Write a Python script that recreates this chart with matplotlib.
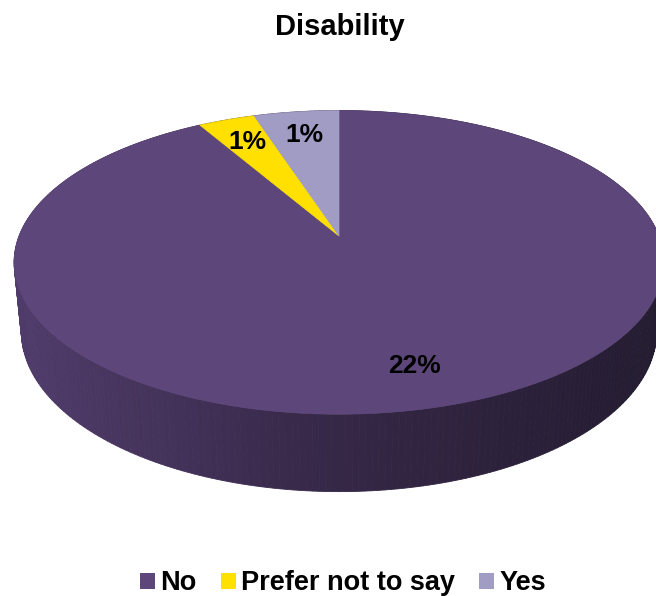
import numpy as np
import matplotlib.pyplot as plt
from matplotlib.patches import Polygon, Patch

plt.rcParams['font.family'] = ['Liberation Sans', 'DejaVu Sans']
plt.rcParams['font.weight'] = 'bold'

title = "Disability"
labels = ["No", "Prefer not to say", "Yes"]
values = [22.0, 0.8, 1.2]
colors = ["#5D467A", "#FFE000", "#A19CC4"]

# camera / geometry of the 3d pie (pixel space)
elev = np.radians(27.4)
dist = 5.11
thick = 0.245
scale = 1635
cx, cy = 339, 236
ce, se = np.cos(elev), np.sin(elev)


def project(x, y, z):
    depth = y * ce + dist - z * se
    up = y * se + z * ce
    return cx + scale * x / depth, cy - scale * up / depth, depth


def side_color(px):
    # darker towards the right, like the default lighting
    xs = [15, 340, 656]
    rgb = [(80, 60, 107), (53, 39, 70), (36, 28, 49)]
    return tuple(np.interp(px, xs, [c[i] for c in rgb]) / 255 for i in range(3))


fig = plt.figure(figsize=(6.56, 5.96), dpi=100)
ax = fig.add_axes([0, 0, 1, 1])
ax.set_xlim(0, 656)
ax.set_ylim(596, 0)
ax.axis('off')

total = sum(values)
bounds = np.concatenate([[0], np.cumsum(values) / total * 360])

# side walls, far ones first
quads = []
for i in range(len(values)):
    a = np.radians(np.linspace(bounds[i], bounds[i + 1], max(int(bounds[i + 1] - bounds[i]), 2) + 1))
    for a0, a1 in zip(a[:-1], a[1:]):
        pts = []
        for ang, z in [(a0, 0), (a1, 0), (a1, -thick), (a0, -thick)]:
            px, py, d = project(np.sin(ang), np.cos(ang), z)
            pts.append((px, py))
        mid = (a0 + a1) / 2
        d = project(np.sin(mid), np.cos(mid), 0)[2]
        quads.append((d, pts))
quads.sort(key=lambda q: -q[0])
for d, pts in quads:
    col = side_color(np.mean([p[0] for p in pts]))
    ax.add_patch(Polygon(pts, closed=True, facecolor=col, edgecolor=col, linewidth=0.6))

# top faces
for i in range(len(values)):
    a = np.radians(np.linspace(bounds[i], bounds[i + 1], 200))
    pts = [project(0, 0, 0)[:2]] + [project(np.sin(t), np.cos(t), 0)[:2] for t in a]
    ax.add_patch(Polygon(pts, closed=True, facecolor=colors[i], edgecolor=colors[i], linewidth=0.5))

# percentage labels
for i in range(len(values)):
    mid = np.radians((bounds[i] + bounds[i + 1]) / 2)
    px, py, _ = project(0.79 * np.sin(mid), 0.79 * np.cos(mid), 0)
    ax.text(px, py, f"{values[i]:.0f}%", ha='center', va='center', fontsize=19, fontweight='bold')

ax.text(340, 27, title, ha='center', va='center', fontsize=21, fontweight='bold')

handles = [Patch(facecolor=c, edgecolor='none') for c in colors]
fig.legend(handles, labels, loc='center', bbox_to_anchor=(0.523, 0.021), ncol=3, frameon=False,
           fontsize=19.5, handlelength=0.55, handleheight=0.55, handletextpad=0.2, columnspacing=0.9,
           borderaxespad=0)

fig.savefig("out.png", dpi=100)
